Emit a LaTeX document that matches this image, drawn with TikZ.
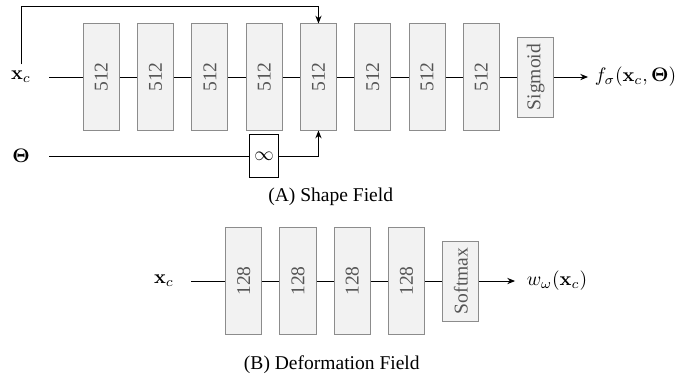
\documentclass[tikz,border=0pt]{standalone}
\usepackage[no-math]{fontspec}
\setmainfont{Liberation Serif}
\usepackage{graphicx}
\usetikzlibrary{arrows.meta,positioning,calc}
\definecolor{boxfill}{HTML}{F2F2F2}
\definecolor{boxline}{HTML}{8C8C8C}
\definecolor{boxtext}{HTML}{555555}
\tikzset{
  layer/.style={rectangle,draw=boxline,fill=boxfill,line width=0.5pt,text=boxtext,
                minimum width=6.5mm,minimum height=19.1mm,inner sep=0pt},
  actf/.style={layer,minimum height=14.4mm},
  opbox/.style={rectangle,draw=black,fill=white,line width=0.5pt,
                minimum width=5.2mm,minimum height=7.9mm,inner sep=0pt},
  ln/.style={line width=0.5pt,draw=black},
  fl/.style={-{Stealth[length=4pt,width=3.2pt]},line width=0.5pt,draw=black},
  captxt/.style={font=\normalsize,inner sep=1pt},
}

\begin{document}
\begin{tikzpicture}[x=0.018cm,y=-0.018cm,node distance=3.1mm]
\useasboundingbox (0,0) rectangle (678,377);
% (A) shape field
\node (xa) at (21,77) {$\mathbf{x}_c$};
\coordinate (ina) at (49,77);
\node[layer] (l1) at (101.3,77) {\rotatebox{90}{512}};
\node[layer, right=of l1] (l2) {\rotatebox{90}{512}};
\node[layer, right=of l2] (l3) {\rotatebox{90}{512}};
\node[layer, right=of l3] (l4) {\rotatebox{90}{512}};
\node[layer, right=of l4] (l5) {\rotatebox{90}{512}};
\node[layer, right=of l5] (l6) {\rotatebox{90}{512}};
\node[layer, right=of l6] (l7) {\rotatebox{90}{512}};
\node[layer, right=of l7] (l8) {\rotatebox{90}{512}};
\node[actf, right=of l8] (sig) {\rotatebox{90}{Sigmoid}};
\node[right=6.1mm of sig] (fa) {$f_\sigma(\mathbf{x}_c,\mathbf{\Theta})$};
\node (th) at (21,156) {$\mathbf{\Theta}$};
\coordinate (inb) at (49,156);
\node[opbox] (inf) at (l4 |- inb) {$\infty$};
\coordinate (sk) at ([yshift=3.1mm]l5.north);
\draw[ln](ina)--(l1); \draw[ln](l1)--(l2); \draw[ln](l2)--(l3); \draw[ln](l3)--(l4);
\draw[ln](l4)--(l5); \draw[ln](l5)--(l6); \draw[ln](l6)--(l7); \draw[ln](l7)--(l8);
\draw[ln](l8)--(sig); \draw[fl](sig)--(fa);
\draw[ln](inb)--(inf); \draw[fl](inf)-|(l5);
\draw[fl](xa)|-(sk)--(l5);
\node[captxt] (capa) at (330.7,197) {(A) Shape Field};
% (B) deformation field
\node (xb) at (164,281) {$\mathbf{x}_c$};
\coordinate (inc) at (191,281);
\node[layer] (m1) at (243.7,281) {\rotatebox{90}{128}};
\node[layer, right=of m1] (m2) {\rotatebox{90}{128}};
\node[layer, right=of m2] (m3) {\rotatebox{90}{128}};
\node[layer, right=of m3] (m4) {\rotatebox{90}{128}};
\node[actf, right=of m4] (soft) {\rotatebox{90}{Softmax}};
\node[right=7.3mm of soft] (wo) {$w_\omega(\mathbf{x}_c)$};
\draw[ln](inc)--(m1); \draw[ln](m1)--(m2); \draw[ln](m2)--(m3); \draw[ln](m3)--(m4);
\draw[ln](m4)--(soft); \draw[fl,shorten >=2.5pt](soft)--(wo);
\node[captxt] (capb) at (331.8,365) {(B) Deformation Field};
\end{tikzpicture}
\end{document}
